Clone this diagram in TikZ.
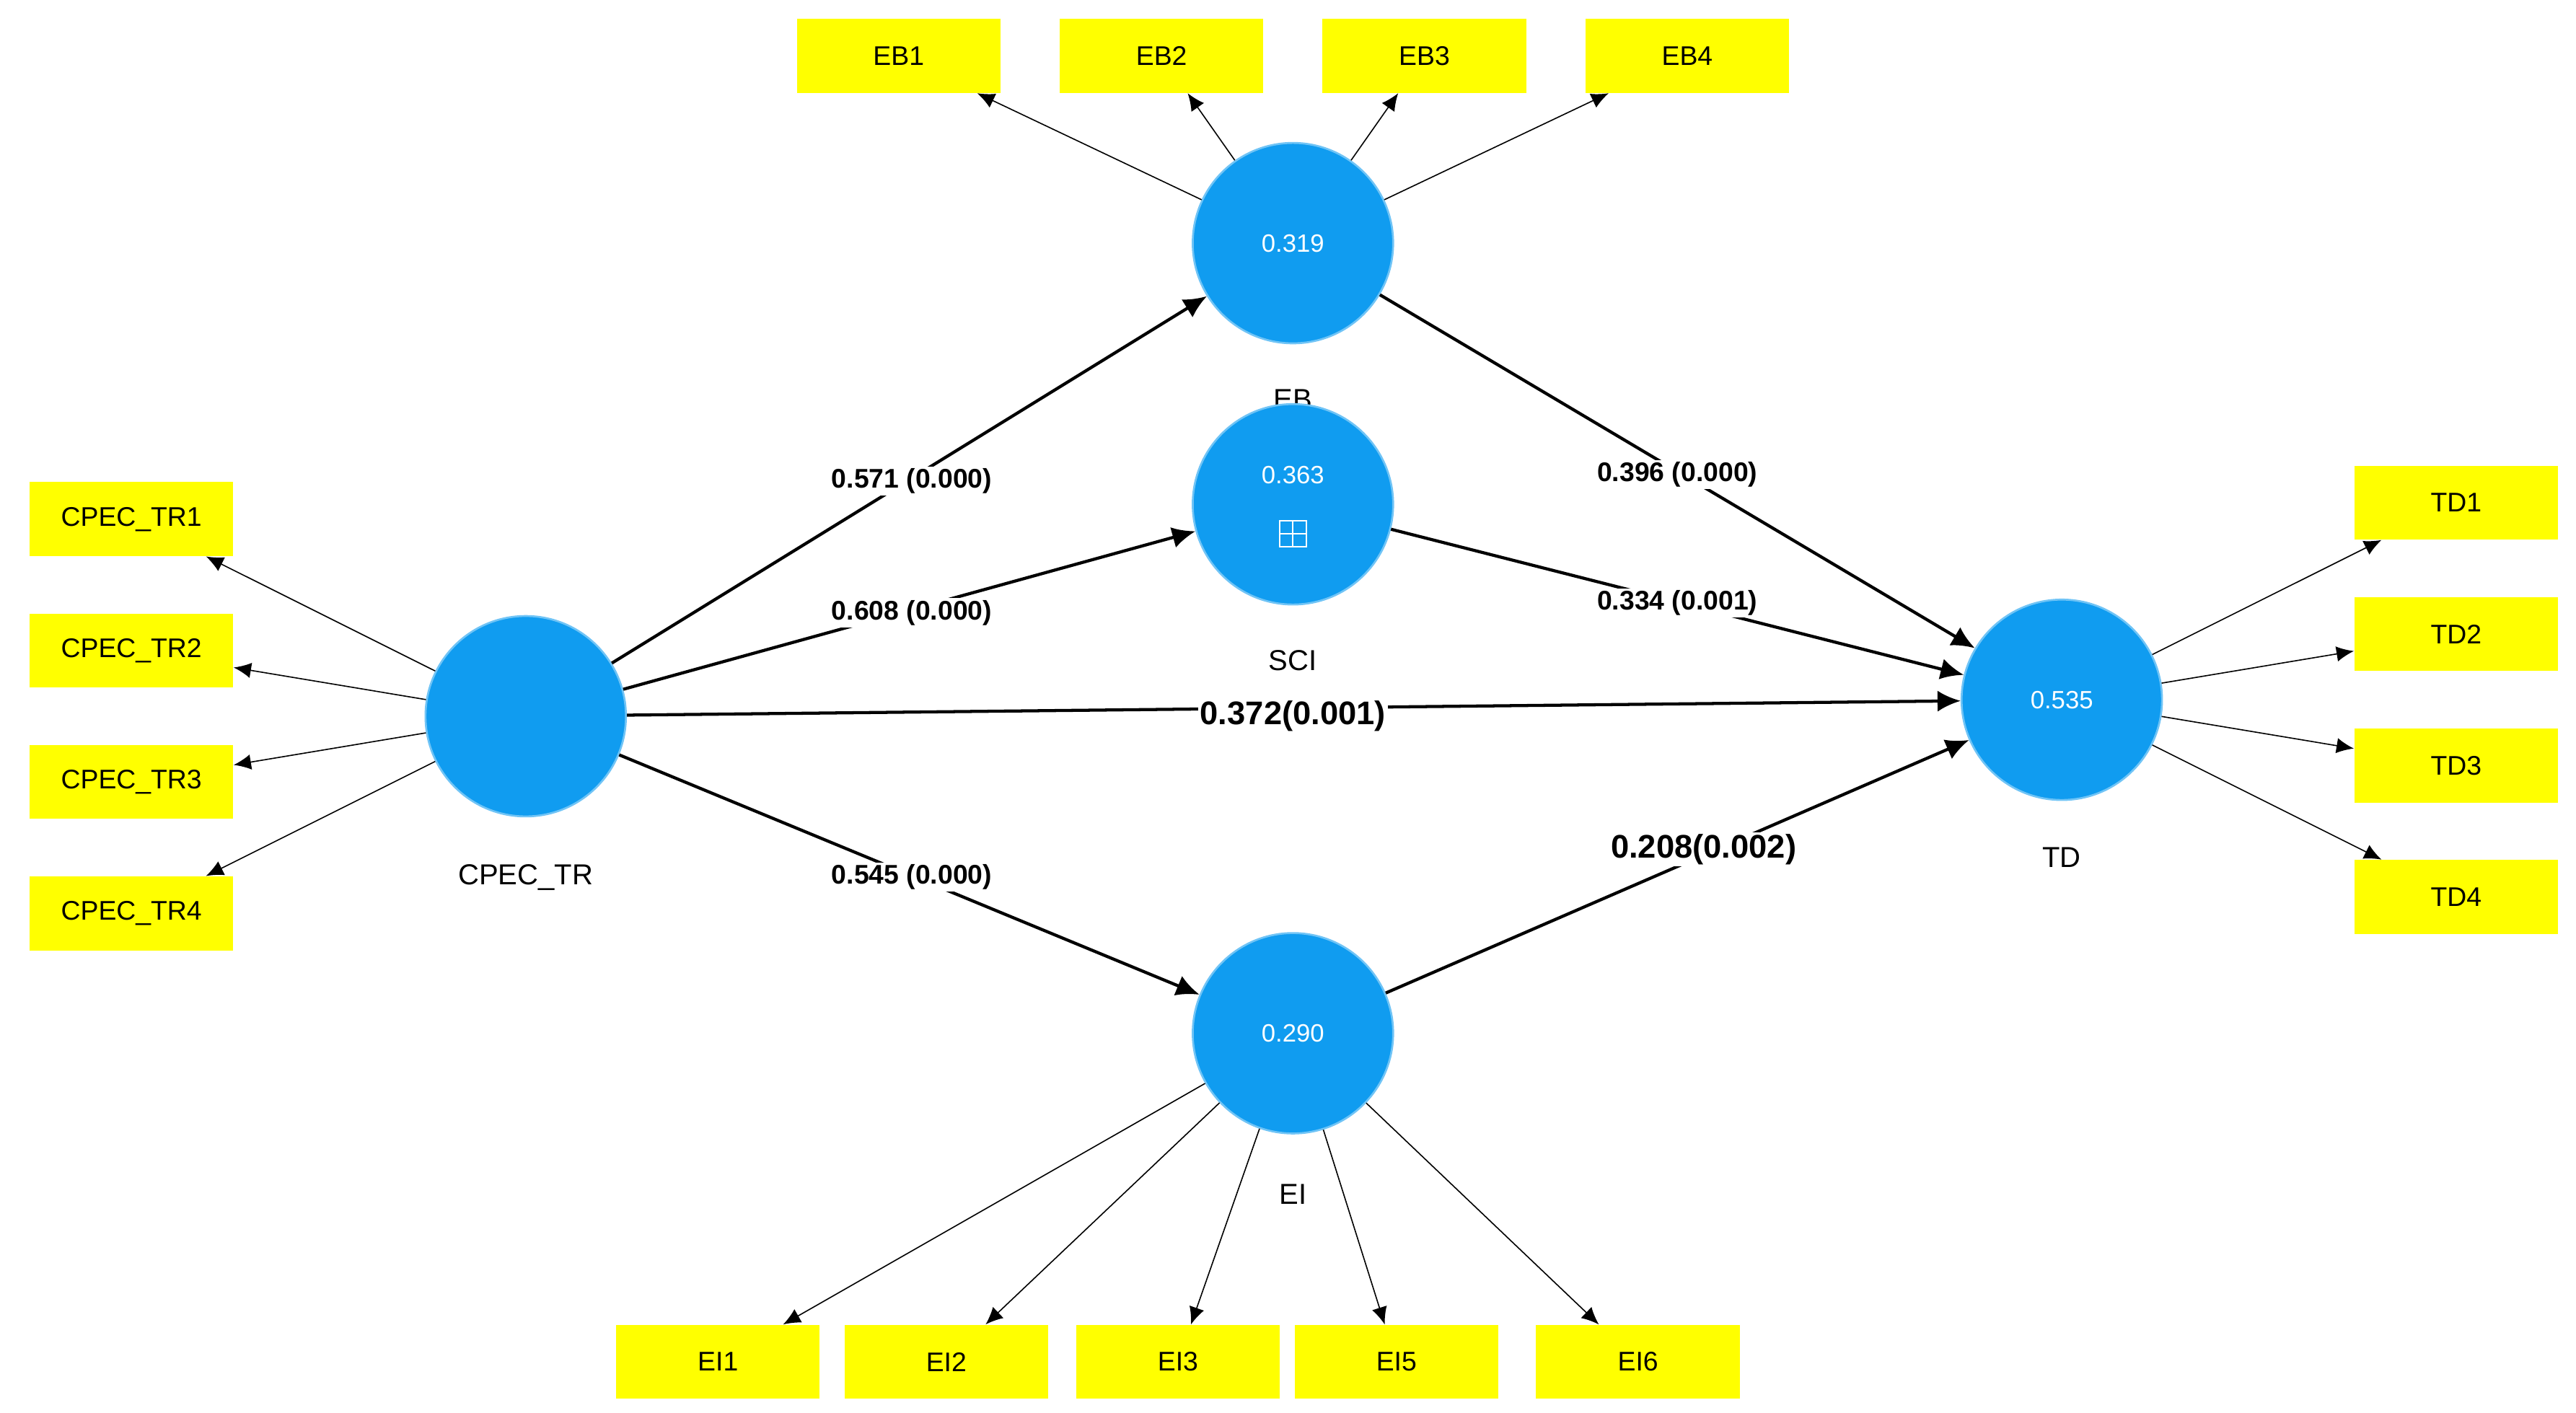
\documentclass[tikz,border=0pt]{standalone}
\usepackage{fontspec}
\setmainfont{Liberation Sans}
\usetikzlibrary{arrows.meta}
\definecolor{lv}{RGB}{16,156,240}
\definecolor{yb}{RGB}{255,255,0}
\begin{document}
\begin{tikzpicture}[x=0.03cm,y=-0.03cm,
  lv/.style={circle,fill=lv,draw=lv!60!white,line width=1pt,minimum size=122*0.03cm,inner sep=0pt,text=white,font=\fontsize{13}{15}\selectfont},
  ind/.style={fill=yb,minimum width=124*0.03cm,minimum height=45*0.03cm,inner sep=0pt,font=\fontsize{14}{16}\selectfont},
  lab/.style={font=\fontsize{15}{17}\selectfont},
  pc/.style={fill=white,inner sep=1pt,font=\bfseries\fontsize{14}{16}\selectfont},
  pcb/.style={fill=white,inner sep=1pt,font=\bfseries\fontsize{17}{19}\selectfont},
  outarr/.style={-{Latex[length=9pt,width=8pt]},line width=0.6pt},
  patharr/.style={-{Latex[length=12pt,width=11pt]},line width=1.6pt}]
\useasboundingbox[fill=white] (0,0) rectangle (1568,860);
% latent nodes
\node[lv] (cp) at (320,436) {};
\node[lv] (eb) at (787,148) {0.319};
\node[lv] (ei) at (787,629) {0.290};
\node[lv] (td) at (1255,426) {0.535};
\node[lab] (ebl) at (787,243) {EB};
\node[lv] (sci) at (787,307) {};
\node[text=white,font=\fontsize{13}{15}\selectfont] (scit) at (787,289) {0.363};
\node[draw=white,line width=0.8pt,minimum size=16*0.03cm,inner sep=0pt] (plus) at (787,325) {};
\draw[white,line width=0.8pt] (plus.north) -- (plus.south) (plus.west) -- (plus.east);
\node[lab] (scil) at (787,402) {SCI};
\node[lab] (cpl) at (320,534) {CPEC\_TR};
\node[lab] (eil) at (787,727) {EI};
\node[lab] (tdl) at (1255,522) {TD};
% indicators
\foreach \n/\y in {1/316,2/396,3/476,4/556}{\node[ind] (c\n) at (80,\y) {CPEC\_TR\n}; \draw[outarr] (cp) -- (c\n);}
\foreach \n/\x in {1/547,2/707,3/867,4/1027}{\node[ind] (b\n) at (\x,34) {EB\n}; \draw[outarr] (eb) -- (b\n);}
\foreach \n/\y in {1/306,2/386,3/466,4/546}{\node[ind] (t\n) at (1495,\y) {TD\n}; \draw[outarr] (td) -- (t\n);}
\foreach \n/\x in {1/437,2/576,3/717,5/850,6/997}{\node[ind] (i\n) at (\x,829) {EI\n}; \draw[outarr] (ei) -- (i\n);}
% structural paths
\draw[patharr] (cp) -- (eb);
\draw[patharr] (cp) -- (sci);
\draw[patharr] (cp) -- (ei);
\draw[patharr] (cp) -- (td);
\draw[patharr] (eb) -- (td);
\draw[patharr] (sci) -- (td);
\draw[patharr] (ei) -- (td);
\node[pc] (p1) at (555,293) {0.571 (0.000)};
\node[pc] (p2) at (555,373) {0.608 (0.000)};
\node[pc] (p3) at (555,534) {0.545 (0.000)};
\node[pc] (p4) at (1021,289) {0.396 (0.000)};
\node[pc] (p5) at (1021,367) {0.334 (0.001)};
\node[pcb] (p6) at (787,436) {0.372(0.001)};
\node[pcb] (p7) at (1037,517) {0.208(0.002)};
\end{tikzpicture}
\end{document}
